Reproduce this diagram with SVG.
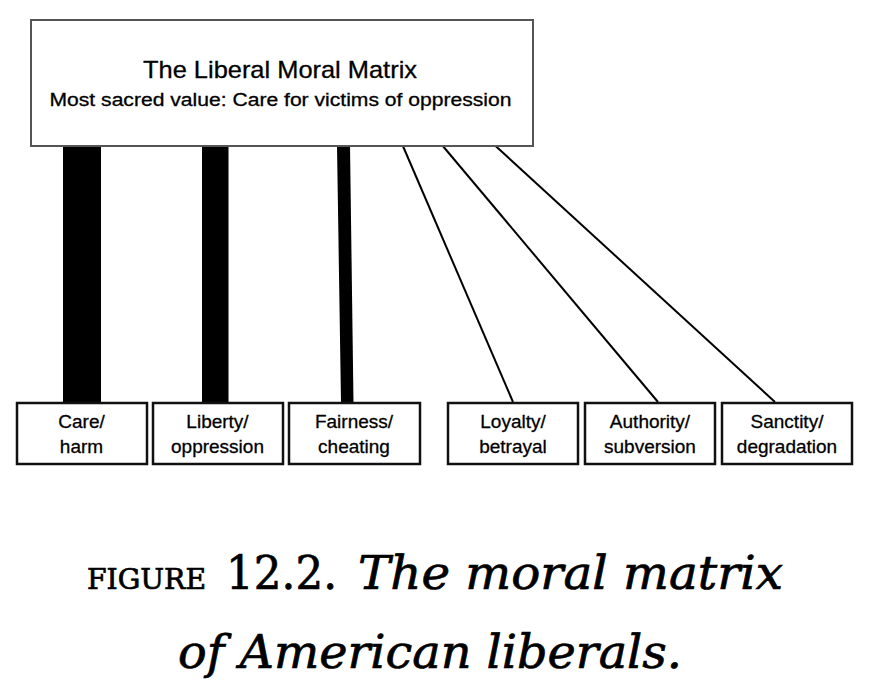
<svg xmlns="http://www.w3.org/2000/svg" width="872" height="698" viewBox="0 0 872 698">
<style>
.sans{font-family:"Liberation Sans",Arial,sans-serif;fill:#000;stroke:#000;stroke-width:0.3}
.lbl{font-size:19px;text-anchor:middle}
.box{fill:#fff;stroke:#111;stroke-width:2.5}
.cap{font-family:"DejaVu Serif","Liberation Serif",serif;fill:#000;stroke:#000;stroke-width:0.7}
.thin{stroke:#000;stroke-width:2;fill:none}
</style>
<rect width="872" height="698" fill="#fff"/>
<g id="connectors">
<rect x="63" y="145" width="38" height="258" fill="#000"/>
<rect x="202" y="145" width="26.5" height="258" fill="#000"/>
<polygon points="337,145 350,145 353.5,403 341,403" fill="#000"/>
<line class="thin" x1="402.5" y1="145" x2="513" y2="402"/>
<line class="thin" x1="442" y1="145" x2="658" y2="402"/>
<line class="thin" x1="494.5" y1="145" x2="775" y2="402"/>
</g>
<g id="matrix">
<rect x="31" y="20" width="502" height="126" fill="#fff" stroke="#555" stroke-width="2"/>
<text class="sans" x="280" y="78" font-size="24" text-anchor="middle" textLength="274" lengthAdjust="spacingAndGlyphs">The Liberal Moral Matrix</text>
<text class="sans" x="280.5" y="105.5" font-size="18" text-anchor="middle" textLength="462" lengthAdjust="spacingAndGlyphs">Most sacred value: Care for victims of oppression</text>
</g>
<g id="care">
<rect class="box" x="17" y="403" width="130" height="61"/>
<text class="sans lbl" x="81.5" y="428">Care/</text>
<text class="sans lbl" x="81.5" y="453">harm</text>
</g>
<g id="liberty">
<rect class="box" x="153" y="403" width="130" height="61"/>
<text class="sans lbl" x="217.5" y="428">Liberty/</text>
<text class="sans lbl" x="217.5" y="453">oppression</text>
</g>
<g id="fairness">
<rect class="box" x="289" y="403" width="131" height="61"/>
<text class="sans lbl" x="354" y="428">Fairness/</text>
<text class="sans lbl" x="354" y="453">cheating</text>
</g>
<g id="loyalty">
<rect class="box" x="448" y="403" width="130" height="61"/>
<text class="sans lbl" x="513" y="428">Loyalty/</text>
<text class="sans lbl" x="513" y="453">betrayal</text>
</g>
<g id="authority">
<rect class="box" x="585" y="403" width="130" height="61"/>
<text class="sans lbl" x="650" y="428">Authority/</text>
<text class="sans lbl" x="650" y="453">subversion</text>
</g>
<g id="sanctity">
<rect class="box" x="722" y="403" width="130" height="61"/>
<text class="sans lbl" x="787" y="428">Sanctity/</text>
<text class="sans lbl" x="787" y="453">degradation</text>
</g>
<g id="caption">
<text class="cap" x="87" y="589" font-size="27" textLength="119" lengthAdjust="spacingAndGlyphs">FIGURE</text>
<text class="cap" x="226" y="589" font-size="46" textLength="111" lengthAdjust="spacingAndGlyphs">12.2.</text>
<text class="cap" x="358" y="589" font-size="46" font-style="italic" textLength="425" lengthAdjust="spacingAndGlyphs">The moral matrix</text>
<text class="cap" x="178" y="668" font-size="46" font-style="italic" textLength="504" lengthAdjust="spacingAndGlyphs">of American liberals.</text>
</g>
</svg>
